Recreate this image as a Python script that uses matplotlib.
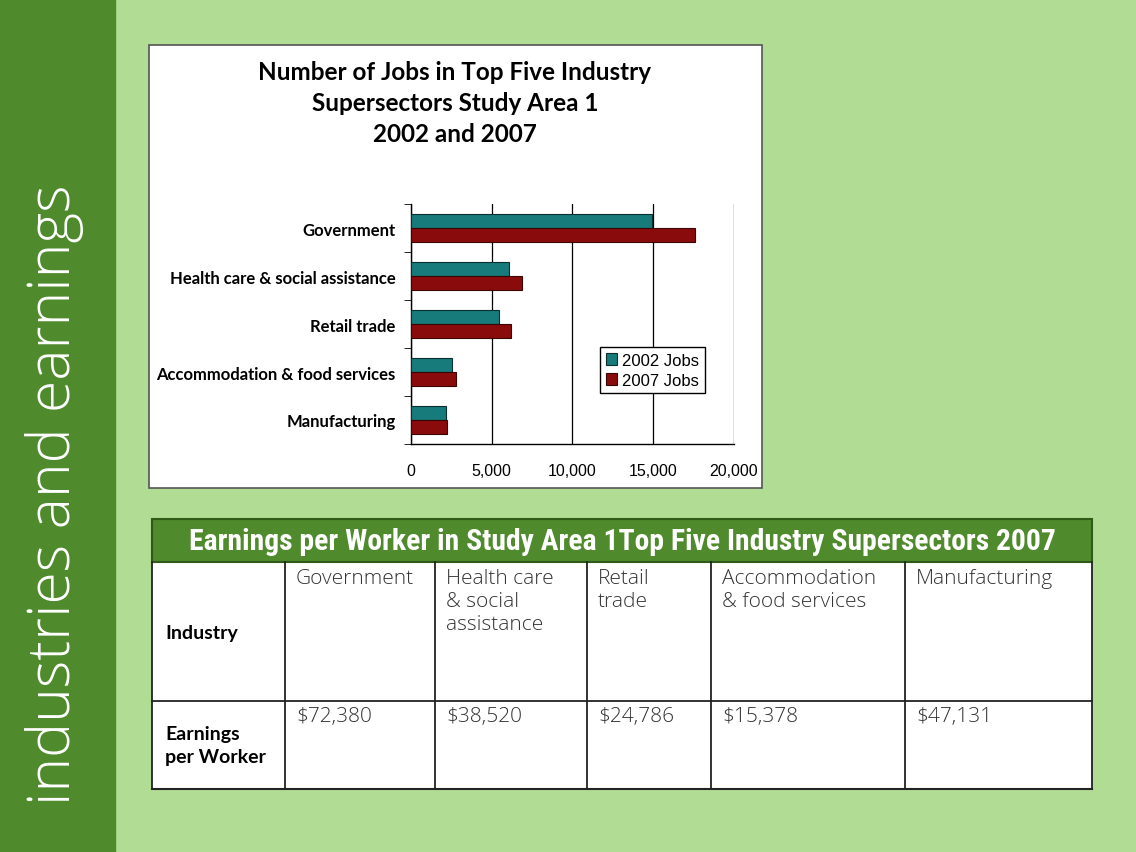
import matplotlib.pyplot as plt
import numpy as np
from matplotlib.patches import Rectangle
from matplotlib.ticker import FuncFormatter, FixedLocator

# jobs by supersector (top five), study area 1
industries = ['Government', 'Health care & social assistance', 'Retail trade',
              'Accommodation & food services', 'Manufacturing']
jobs_2002 = [14930, 6100, 5440, 2560, 2190]
jobs_2007 = [17620, 6900, 6200, 2810, 2230]

# earnings table, 2007
table_labels = ['Government', 'Health care\n& social\nassistance', 'Retail\ntrade',
                'Accommodation\n& food services', 'Manufacturing']
earnings = [72380, 38520, 24786, 15378, 47131]

W, H = 1136, 853
DARK_GREEN = '#4f8a2c'
LIGHT_GREEN = '#b1dc94'
TEAL = '#177b7b'
RED = '#8a0b0b'

fig = plt.figure(figsize=(W / 100, H / 100), dpi=100)
fig.patch.set_facecolor(LIGHT_GREEN)

# full-figure overlay in pixel coordinates for the slide pieces
bg = fig.add_axes([0, 0, 1, 1])
bg.set_xlim(0, W)
bg.set_ylim(H, 0)
bg.axis('off')

bg.add_patch(Rectangle((0, 0), 115, H, color=DARK_GREEN, zorder=0))
bg.text(55, 495, 'industries and earnings', rotation=90, ha='center', va='center',
        color='white', fontsize=42.5, family='Open Sans', fontweight=300)

# chart frame
bg.add_patch(Rectangle((149, 46), 613, 443, facecolor='white', edgecolor='#555555',
                       lw=1.2, zorder=1))
bg.text(455, 61, 'Number of Jobs in Top Five Industry\nSupersectors Study Area 1\n2002 and 2007',
        ha='center', va='top', fontsize=17.5, fontweight='bold', family='Lato',
        linespacing=1.42, zorder=2)

# bar chart
x0, x1, y0, y1 = 411, 733.5, 205, 445
ax = fig.add_axes([x0 / W, 1 - y1 / H, (x1 - x0) / W, (y1 - y0) / H])
ax.set_facecolor('white')
y = np.arange(len(industries))
bh = 0.29
ax.barh(y - bh / 2, jobs_2002, height=bh, color=TEAL, edgecolor='#0a2f2f', lw=0.8,
        label='2002 Jobs', zorder=3)
ax.barh(y + bh / 2, jobs_2007, height=bh, color=RED, edgecolor='#3a0505', lw=0.8,
        label='2007 Jobs', zorder=3)
ax.set_xlim(0, 20000)
ax.set_ylim(len(industries) - 0.5, -0.5)
ax.set_xticks([0, 5000, 10000, 15000, 20000])
ax.xaxis.set_major_formatter(FuncFormatter(lambda v, p: f'{int(v):,}'))
ax.grid(axis='x', color='black', lw=0.9, zorder=1)
ax.set_yticks(y)
ax.set_yticklabels(industries, fontsize=12, fontweight='bold', family='Lato')
ax.yaxis.set_minor_locator(FixedLocator(np.arange(len(industries) + 1) - 0.5))
ax.tick_params(axis='y', which='major', length=0, pad=11)
ax.tick_params(axis='y', which='minor', length=5, direction='out')
ax.tick_params(axis='x', length=0, pad=14)
for t in ax.get_xticklabels():
    t.set_family('Liberation Sans')
    t.set_fontsize(11.5)
for s in ['top', 'right']:
    ax.spines[s].set_visible(False)
ax.spines['left'].set_linewidth(1)
ax.spines['bottom'].set_linewidth(1)
leg = ax.legend(loc='upper left', bbox_to_anchor=(0.56, 0.44), fancybox=False,
                edgecolor='black', framealpha=1, borderpad=0.35, handlelength=0.7,
                handleheight=0.7, handletextpad=0.3, labelspacing=0.3,
                prop={'family': 'Liberation Sans', 'size': 12})
leg.get_frame().set_linewidth(1)

# earnings table
tl, tr = 152, 1092
t_top, t_head, t_mid, t_bot = 520, 563, 702, 790
cols = [tl, 285, 435, 587, 711, 905, tr]
bg.add_patch(Rectangle((tl, t_head), tr - tl, t_bot - t_head, facecolor='white',
                       edgecolor='none', zorder=1))
bg.add_patch(Rectangle((tl, t_top), tr - tl, t_head - t_top, facecolor=DARK_GREEN,
                       edgecolor='#2f5a18', lw=1.5, zorder=2))
bg.text((tl + tr) / 2, (t_top + t_head) / 2 + 1,
        'Earnings per Worker in Study Area 1Top Five Industry Supersectors 2007',
        ha='center', va='center', color='white', fontsize=21.3, fontweight='bold',
        family='Roboto Condensed', zorder=3)
lc = '#222222'
bg.plot([tl, tr], [t_mid, t_mid], color=lc, lw=1.3, zorder=3)
bg.plot([tl, tr], [t_bot, t_bot], color=lc, lw=1.5, zorder=3)
for cx in cols:
    bg.plot([cx, cx], [t_head, t_bot], color=lc, lw=1.3, zorder=3)

bg.text(165, 633, 'Industry', ha='left', va='center', fontsize=14, fontweight='bold',
        family='Lato', zorder=4)
bg.text(165, 746, 'Earnings\nper Worker', ha='left', va='center', fontsize=14,
        fontweight='bold', family='Lato', linespacing=1.4, zorder=4)
for i, (lab, val) in enumerate(zip(table_labels, earnings)):
    cx = cols[i + 1] + 11
    bg.text(cx, 569, lab, ha='left', va='top', fontsize=15, fontweight=300,
            family='Open Sans', color='#333333', linespacing=1.2, zorder=4)
    bg.text(cx, 707, f'${val:,}', ha='left', va='top', fontsize=15, fontweight=300,
            family='Open Sans', color='#333333', zorder=4)

fig.savefig('out.png', dpi=100, facecolor=fig.get_facecolor())
